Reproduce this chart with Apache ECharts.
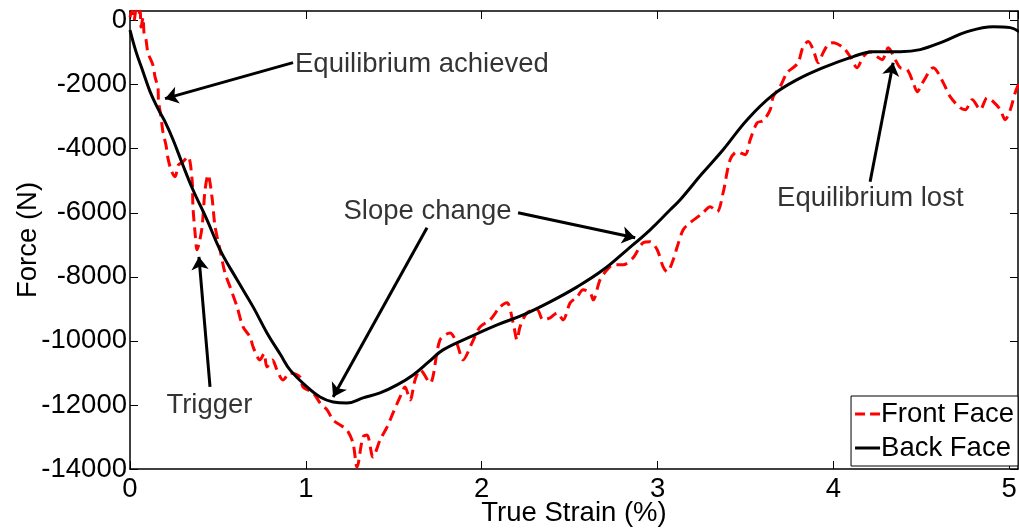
<!DOCTYPE html>
<html>
<head>
<meta charset="utf-8">
<script src="https://cdn.jsdelivr.net/npm/echarts@6/dist/echarts.min.js"></script>
<style>html,body{margin:0;padding:0;background:#fff;}#c{width:1019px;height:529px;}</style>
</head>
<body>
<div id="c"></div>
<script>
// ---- data ----
var frontStrain = [0,0.011,0.023,0.034,0.046,0.057,0.063,0.074,0.080,0.091,0.102,0.131,0.142,0.159,0.162,0.176,0.188,0.205,0.216,0.236,0.256,0.276,0.296,0.330,0.353,0.358,0.370,0.381,0.395,0.410,0.427,0.444,0.466,0.484,0.512,0.540,0.569,0.609,0.643,0.683,0.700,0.739,0.762,0.779,0.810,0.836,0.870,0.910,0.967,0.984,1.041,1.081,1.121,1.155,1.195,1.234,1.268,1.291,1.325,1.348,1.382,1.422,1.462,1.496,1.536,1.564,1.593,1.621,1.650,1.706,1.763,1.820,1.860,1.894,1.945,1.991,2.048,2.105,2.144,2.179,2.201,2.218,2.258,2.315,2.349,2.389,2.429,2.463,2.503,2.543,2.577,2.617,2.634,2.673,2.713,2.747,2.804,2.861,2.918,2.958,2.998,3.032,3.055,3.089,3.112,3.146,3.185,3.259,3.299,3.339,3.373,3.413,3.453,3.498,3.527,3.567,3.601,3.641,3.658,3.697,3.737,3.771,3.800,3.828,3.857,3.885,3.914,3.942,3.970,3.999,4.056,4.096,4.135,4.170,4.209,4.249,4.278,4.312,4.352,4.380,4.420,4.454,4.477,4.511,4.568,4.625,4.664,4.721,4.750,4.790,4.835,4.875,4.909,4.949,4.977,5.006,5.034,5.057];
var frontForce = [100,300,0,300,150,300,-200,100,-400,-600,-1000,-1400,-1750,-2100,-2500,-3000,-3500,-3900,-4300,-4700,-4875,-4500,-4438,-4250,-4969,-5813,-6625,-7156,-6900,-6438,-5281,-4813,-5500,-6438,-7156,-7875,-8313,-8938,-9563,-9875,-10188,-10594,-10400,-10813,-10600,-10906,-11219,-11000,-11125,-11438,-11625,-11938,-12156,-12469,-12625,-12781,-13188,-13938,-13000,-12938,-13625,-13094,-12688,-12250,-11750,-11438,-11844,-11219,-10906,-11313,-9969,-9750,-10100,-10594,-10063,-9563,-9344,-8938,-8813,-9438,-9969,-9563,-9125,-9031,-9344,-9281,-9125,-9344,-8813,-8625,-8406,-8500,-8719,-8094,-7781,-7625,-7625,-7406,-6938,-6906,-7156,-7688,-7844,-7469,-7063,-6531,-6313,-6000,-5813,-5969,-5375,-4344,-4094,-4188,-3719,-3188,-3125,-2781,-2375,-2063,-1625,-1469,-1313,-813,-656,-906,-1313,-1000,-750,-688,-844,-1125,-1469,-1125,-969,-1125,-1219,-844,-1219,-1469,-1531,-1938,-2219,-1906,-1469,-1938,-2375,-2719,-2781,-2469,-2781,-2406,-2531,-2781,-3094,-2781,-2250,-1938];
var backStrain = [0,0.034,0.074,0.114,0.159,0.199,0.245,0.300,0.358,0.438,0.512,0.609,0.700,0.779,0.858,0.910,1.007,1.081,1.155,1.234,1.325,1.422,1.519,1.610,1.700,1.780,1.934,2.088,2.236,2.389,2.543,2.691,2.827,2.958,3.072,3.129,3.250,3.373,3.510,3.658,3.794,3.942,4.113,4.226,4.380,4.494,4.625,4.761,4.909,5.006,5.057];
var backForce = [-300,-969,-1594,-2219,-2750,-3156,-3719,-4500,-5281,-6219,-7156,-8094,-8938,-9750,-10450,-10906,-11438,-11750,-11906,-11938,-11781,-11625,-11375,-11063,-10650,-10281,-9875,-9500,-9188,-8781,-8313,-7781,-7156,-6531,-5906,-5594,-4800,-4031,-3094,-2313,-1844,-1469,-1125,-969,-969,-906,-656,-344,-188,-219,-344];
var seriesNames = ['Front Face', 'Back Face'];
var xTicks = ['0','1','2','3','4','5'];
var annotTexts = ['Equilibrium achieved', 'Trigger', 'Slope change', 'Equilibrium lost'];
var annotTextPos = [[1.66,-1375],[0.452,-12000],[1.692,-5969],[4.21,-5563]];
var arrowFrom = [[0.927,-1312],[0.455,-11438],[1.689,-6469],[2.207,-6000],[4.209,-5031]];
var arrowTo = [[0.199,-2437],[0.392,-7375],[1.155,-11750],[2.873,-6781],[4.340,-1313]];

function zip(a, b) { return a.map(function (v, i) { return [v, b[i]]; }); }

var FONT = '"Liberation Sans", Arial, sans-serif';
var FS = 27.5;

var chart = echarts.init(document.getElementById('c'), null, {renderer: 'canvas'});

var axisCommon = {
  axisLine: {show: true, onZero: false, lineStyle: {color: '#000', width: 1.5}},
  axisTick: {show: true, inside: true, length: 8, lineStyle: {color: '#000', width: 1}},
  splitLine: {show: false}
};

var option = {
  animation: false,
  backgroundColor: '#fff',
  grid: {left: 130, right: 1, top: 11, bottom: 60, containLabel: false, outerBoundsMode: 'none'},
  xAxis: [
    Object.assign({}, axisCommon, {
      type: 'value', min: 0, max: 5.05, interval: 1, position: 'bottom',
      name: 'True Strain (%)', nameLocation: 'middle', nameGap: 30, nameMoveOverlap: false,
      nameTextStyle: {fontFamily: FONT, fontSize: FS, color: '#000'},
      axisLabel: {show: true, showMaxLabel: false, margin: 6, fontFamily: FONT, fontSize: FS, color: '#000',
        formatter: function (v) { var i = Math.round(v); return Math.abs(v - i) < 1e-6 && xTicks[i] !== undefined ? xTicks[i] : ''; }}
    }),
    Object.assign({}, axisCommon, {
      type: 'value', min: 0, max: 5.05, interval: 1, position: 'top',
      axisLabel: {show: false}
    })
  ],
  yAxis: [
    Object.assign({}, axisCommon, {
      type: 'value', min: -14000, max: 300, interval: 2000, position: 'left',
      name: 'Force (N)', nameLocation: 'middle', nameGap: 88, nameMoveOverlap: false,
      nameTextStyle: {fontFamily: FONT, fontSize: FS, color: '#000'},
      axisLabel: {show: true, showMaxLabel: false, margin: 3, fontFamily: FONT, fontSize: FS, color: '#000',
        formatter: function (v) { return String(Math.round(v)); }}
    }),
    Object.assign({}, axisCommon, {
      type: 'value', min: -14000, max: 300, interval: 2000, position: 'right',
      axisLabel: {show: false}
    })
  ],
  legend: {
    data: [
      {name: seriesNames[0], icon: 'path://M0,0h10v3h-10z M15,0h10v3h-10z'},
      {name: seriesNames[1], icon: 'rect'}
    ],
    orient: 'vertical',
    right: 1, bottom: 63,
    backgroundColor: '#fff',
    borderColor: '#000', borderWidth: 1, borderRadius: 0,
    padding: [2, 4, 2, 4],
    itemGap: 2,
    itemWidth: 25, itemHeight: 3,
    textStyle: {fontFamily: FONT, fontSize: FS, color: '#000', lineHeight: 32, padding: [0, 0, 0, -4]}
  },
  series: [
    {
      name: seriesNames[0], type: 'line', data: zip(frontStrain, frontForce),
      symbol: 'none', smooth: 0.3, clip: true,
      lineStyle: {color: '#ff0000', width: 3, type: [11, 6]},
      itemStyle: {color: '#ff0000'}, z: 2
    },
    {
      name: seriesNames[1], type: 'line', data: zip(backStrain, backForce),
      symbol: 'none', smooth: 0.4, clip: true,
      lineStyle: {color: '#000', width: 3, type: 'solid'},
      itemStyle: {color: '#000'}, z: 3
    },
    {
      name: 'annotations', type: 'scatter', symbolSize: 1,
      itemStyle: {color: 'rgba(0,0,0,0)'},
      data: annotTexts.map(function (t, i) { return {name: t, value: annotTextPos[i]}; }),
      label: {show: true, position: 'inside', formatter: '{b}', fontFamily: FONT, fontSize: FS, color: '#000'},
      silent: true, z: 5,
      markLine: {
        silent: true, animation: false,
        symbol: ['none', 'arrow'], symbolSize: 13,
        label: {show: false},
        lineStyle: {color: '#000', width: 3, type: 'solid'},
        data: arrowFrom.map(function (p, i) { return [{coord: p}, {coord: arrowTo[i]}]; })
      }
    }
  ]
};
chart.setOption(option);
</script>
</body>
</html>
